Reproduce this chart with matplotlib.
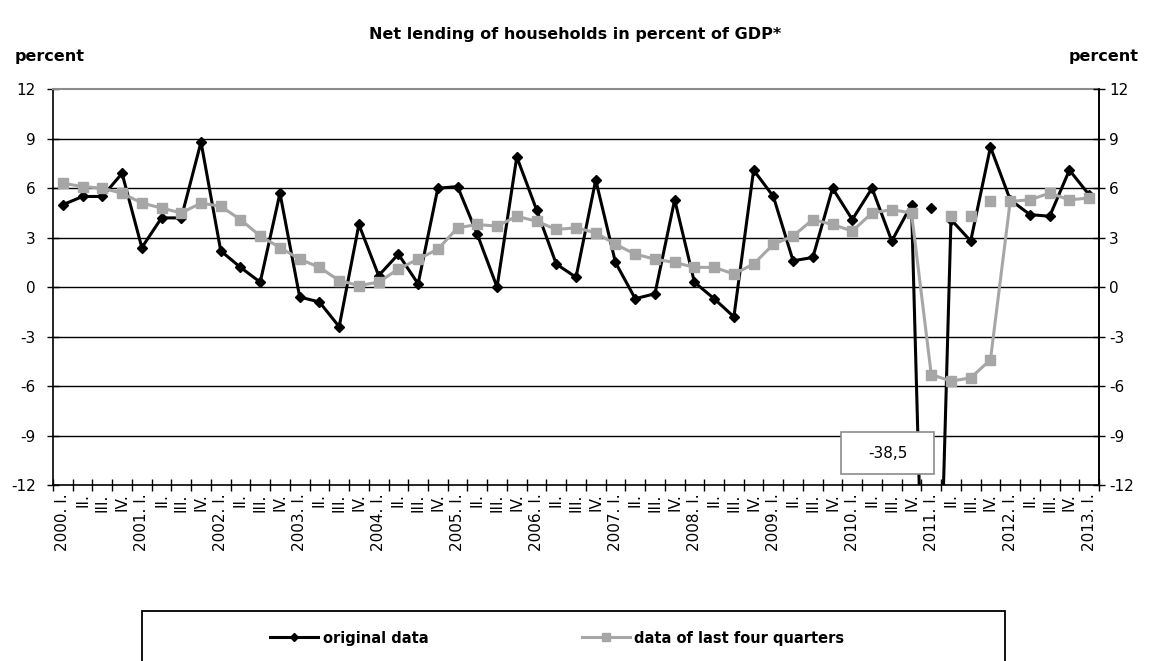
import numpy as np
import matplotlib
matplotlib.use('Agg')
import matplotlib.pyplot as plt
from matplotlib.patches import Rectangle

plt.rcParams['axes.unicode_minus'] = False

# quarters 2000. I. - 2013. I.
years = list(range(2000, 2014))
quarters = ['I.', 'II.', 'III.', 'IV.']
periods = [(y, q) for y in years for q in quarters][:53]
tick_labels = [f"{y}. {q}" if q == 'I.' else q for y, q in periods]

# net lending of households, % of GDP
original = [5.0, 5.5, 5.5, 6.9,
            2.4, 4.2, 4.2, 8.8,
            2.2, 1.2, 0.3, 5.7,
            -0.6, -0.9, -2.4, 3.8,
            0.7, 2.0, 0.2, 6.0,
            6.1, 3.2, 0.0, 7.9,
            4.7, 1.4, 0.6, 6.5,
            1.5, -0.7, -0.4, 5.3,
            0.3, -0.7, -1.8, 7.1,
            5.5, 1.6, 1.8, 6.0,
            4.1, 6.0, 2.8, 5.0,
            -38.5, 4.1, 2.8, 8.5,
            5.3, 4.4, 4.3, 7.1,
            5.6]
last_four = [6.3, 6.1, 6.0, 5.7,
             5.1, 4.8, 4.5, 5.1,
             4.9, 4.1, 3.1, 2.4,
             1.7, 1.2, 0.4, 0.1,
             0.3, 1.1, 1.7, 2.3,
             3.6, 3.8, 3.7, 4.3,
             4.0, 3.5, 3.6, 3.3,
             2.6, 2.0, 1.7, 1.5,
             1.2, 1.2, 0.8, 1.4,
             2.6, 3.1, 4.1, 3.8,
             3.4, 4.5, 4.7, 4.5,
             -5.3, -5.7, -5.5, -4.4,
             5.2, 5.3, 5.7, 5.3,
             5.4]

# values without the one-off pension fund transfer
original_adj_periods = [(2011, 'I.')]
original_adj = [4.8]
last_four_adj_periods = [(2011, 'II.'), (2011, 'III.'), (2011, 'IV.')]
last_four_adj = [4.3, 4.3, 5.2]

idx = np.arange(len(periods))
orig_adj_idx = [periods.index(p) for p in original_adj_periods]
four_adj_idx = [periods.index(p) for p in last_four_adj_periods]

gray = '#a6a6a6'
W, H = 1149, 661

fig = plt.figure(figsize=(W / 100, H / 100), dpi=100)
ax = fig.add_axes([53 / W, 1 - 485 / H, 1046 / W, (485 - 89.3) / H])

ax.set_xlim(-0.5, len(periods) - 0.5)
ax.set_ylim(-12, 12)
yticks = np.arange(-12, 13, 3)
ax.set_yticks(yticks)
for v in yticks[1:-1]:
    ax.axhline(v, color='black', lw=1.0, zorder=1)

l1, = ax.plot(idx, original, color='black', lw=2.2, marker='D', ms=5.5,
              zorder=3, label='original data')
l2, = ax.plot(idx, last_four, color=gray, lw=2.2, marker='s', ms=7,
              zorder=4, label='data of last four quarters')
ax.plot(orig_adj_idx, original_adj, ls='none', marker='D', ms=5.5,
        color='black', zorder=5)
ax.plot(four_adj_idx, last_four_adj, ls='none', marker='s', ms=7,
        color=gray, zorder=5)

# data label of the outlier
i_min = int(np.argmin(original))
ax.add_patch(Rectangle((39.45, -11.35), 4.7, 2.55, facecolor='white',
                       edgecolor='#8c8c8c', lw=1.2, zorder=6))
ax.text(41.8, -10.07, f"{original[i_min]:.1f}".replace('.', ','),
        ha='center', va='center', fontsize=11, zorder=7)

ax.set_xticks(idx)
ax.set_xticklabels(tick_labels, rotation=90, fontsize=11)
ax.set_xticks(np.arange(-0.5, len(periods), 1), minor=True)
ax.tick_params(axis='x', which='major', length=0, pad=6)
ax.tick_params(axis='x', which='minor', length=8, width=1,
               direction='inout', color='black')
ax.tick_params(axis='y', direction='inout', length=8.6, width=1,
               pad=8, labelsize=11)

ax.spines['top'].set_color('#8c8c8c')
ax.spines['top'].set_linewidth(1.5)
for s in ['left', 'bottom', 'right']:
    ax.spines[s].set_color('black')
    ax.spines[s].set_linewidth(1.2)

ax2 = ax.twinx()
ax2.set_ylim(-12, 12)
ax2.set_yticks(yticks)
ax2.tick_params(axis='y', direction='inout', length=8.6, width=1,
                pad=3, labelsize=11)
for s in ['left', 'bottom', 'top']:
    ax2.spines[s].set_visible(False)
ax2.spines['right'].set_linewidth(1.2)

fig.text(575 / W, 1 - 35 / H, 'Net lending of households in percent of GDP*',
         ha='center', va='center', fontsize=11.5, weight='bold')
fig.text(15 / W, 1 - 57 / H, 'percent', ha='left', va='center',
         fontsize=11.5, weight='bold')
fig.text(1139 / W, 1 - 57 / H, 'percent', ha='right', va='center',
         fontsize=11.5, weight='bold')

# legend box runs off the bottom edge
fig.add_artist(Rectangle((142 / W, -0.1), (1005 - 142) / W, 0.1 + 1 - 611 / H,
                         transform=fig.transFigure, fill=False,
                         edgecolor='black', lw=1.3))
fig.legend(handles=[l1, l2], loc='center left',
           bbox_to_anchor=(263 / W, 1 - 638 / H), ncol=2, frameon=False,
           borderpad=0, handlelength=3.3, handletextpad=0.3,
           columnspacing=10.5, markerscale=0.8,
           prop={'weight': 'bold', 'size': 10.5})

fig.savefig('out.png', dpi=100)
